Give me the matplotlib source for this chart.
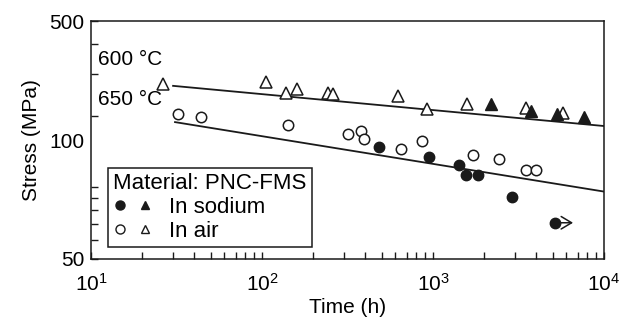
import matplotlib
matplotlib.use("Agg")
import matplotlib.pyplot as plt
import matplotlib.transforms as mtransforms
from matplotlib.legend_handler import HandlerTuple
from matplotlib.lines import Line2D
import numpy as np

plt.rcParams['font.family'] = ['Liberation Sans', 'DejaVu Sans']
fs = 15
plt.rcParams['font.size'] = fs

# 600 C, in air (open triangles)
air600_t = [26.4, 105, 138, 160, 243, 260, 624, 922, 1580, 3500, 5750]
air600_s = [272, 277, 249, 259, 249, 247, 242, 213, 224, 215, 205]
# 600 C, in sodium (filled triangles)
na600_t = [2180, 3740, 5310, 7640]
na600_s = [224, 209, 203, 198]
# 650 C, in air (open circles)
air650_t = [32.3, 44.0, 142, 318, 379, 395, 650, 862, 1710, 2430, 3500, 4000]
air650_s = [203, 198, 183, 168, 172, 160, 145, 157, 137, 132, 118, 118]
# 650 C, in sodium (filled circles); last one is a run-out
na650_t = [483, 948, 1420, 1560, 1830, 2900]
na650_s = [148, 134, 124, 113, 113, 91]
runout_t = 5170
runout_s = 71

# fitted lines (end points)
fit600_t = [30.2, 10000]
fit600_s = [267, 181]
fit650_t = [31.0, 10000]
fit650_s = [188, 96]

fig = plt.figure(figsize=(6.34, 3.24), dpi=100)
ax = fig.add_axes([91/634, 1-259/324, 513/634, 238/324])

k = '#1a1a1a'
ax.plot(fit600_t, fit600_s, color=k, lw=1.3)
ax.plot(fit650_t, fit650_s, color=k, lw=1.3)

ms = 7.5
ax.plot(air600_t, air600_s, '^', ms=ms + 0.5, mfc='white', mec=k, mew=1.1, ls='none')
ax.plot(na600_t, na600_s, '^', ms=ms + 0.5, mfc=k, mec=k, ls='none')
ax.plot(air650_t, air650_s, 'o', ms=ms, mfc='white', mec=k, mew=1.1, ls='none')
ax.plot(na650_t, na650_s, 'o', ms=ms, mfc=k, mec=k, ls='none')
ax.plot([runout_t], [runout_s], 'o', ms=ms, mfc=k, mec=k, ls='none')
tip = ax.transData + mtransforms.ScaledTranslation(13/72, 0, fig.dpi_scale_trans)
ax.annotate('', xy=(runout_t, runout_s), xycoords=tip,
            xytext=(runout_t, runout_s), textcoords='data',
            arrowprops=dict(arrowstyle='->,head_length=0.5,head_width=0.3',
                            color=k, lw=1.1, shrinkA=0, shrinkB=0))

ax.text(0.014, 0.84, '600 °C', transform=ax.transAxes, va='center', ha='left')
ax.text(0.014, 0.672, '650 °C', transform=ax.transAxes, va='center', ha='left')

ax.set_xscale('log')
ax.set_yscale('log')
ax.set_xlim(10, 1e4)
ax.set_ylim(50, 500)
ax.set_yticks([50, 100, 500])
ax.set_yticklabels(['50', '100', '500'])
ax.set_yticks([60, 70, 80, 90, 200, 300, 400], minor=True)
ax.yaxis.set_minor_formatter(matplotlib.ticker.NullFormatter())
ax.tick_params(which='both', direction='in', length=5, width=1, color=k,
               top=False, right=False)
ax.tick_params(axis='y', pad=5)
ax.tick_params(axis='x', pad=10)
# the "100" label sits higher than its tick in the original
lab = ax.get_yticklabels()[1]
lab.set_transform(lab.get_transform() +
                  mtransforms.ScaledTranslation(0, 47/100, fig.dpi_scale_trans))

for s in ax.spines.values():
    s.set_linewidth(1.1)
    s.set_color(k)

ax.set_xlabel('Time (h)', labelpad=2)
ax.set_ylabel('Stress (MPa)', labelpad=6)

lfs = 16
h_na = (Line2D([], [], marker='o', ls='none', ms=6.5, mfc=k, mec=k),
        Line2D([], [], marker='^', ls='none', ms=6, mfc=k, mec=k))
h_air = (Line2D([], [], marker='o', ls='none', ms=6.5, mfc='white', mec=k),
         Line2D([], [], marker='^', ls='none', ms=6, mfc='white', mec=k))
leg = ax.legend([h_na, h_air], ['In sodium', 'In air'],
                handler_map={tuple: HandlerTuple(ndivide=None, pad=0.5)},
                title='Material: PNC-FMS', title_fontsize=lfs, fontsize=lfs,
                loc='lower left', bbox_to_anchor=(0.033, 0.05), borderaxespad=0,
                fancybox=False, framealpha=1, edgecolor=k, alignment='left',
                handlelength=1.7, handletextpad=0.8, labelspacing=0.12,
                borderpad=0.25)
leg.get_frame().set_linewidth(1.1)

fig.savefig('out.png', dpi=100)
